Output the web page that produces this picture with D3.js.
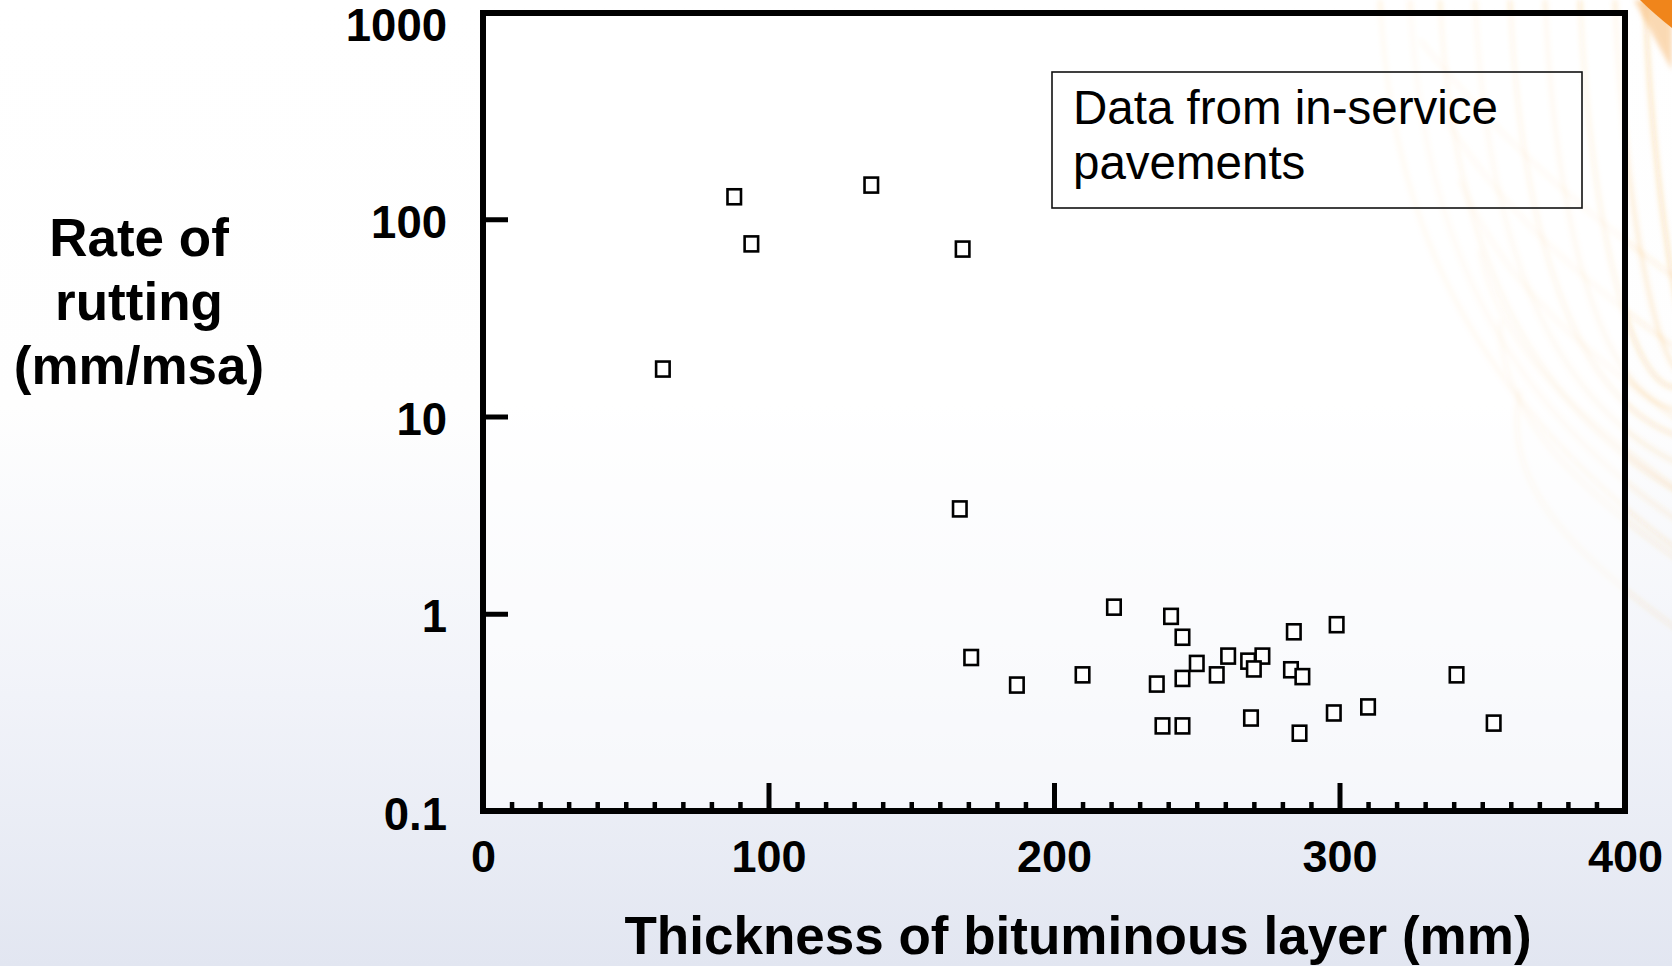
<!DOCTYPE html>
<html>
<head>
<meta charset="utf-8">
<script src="https://cdn.jsdelivr.net/npm/d3@7"></script>
<style>
  html, body { margin: 0; padding: 0; overflow: hidden; background: #ffffff; }
  svg { display: block; }
</style>
</head>
<body>
<svg id="chart" width="1672" height="966"></svg>
<script>
// Thickness of bituminous layer (mm) and measured rate of rutting (mm/msa)
const thickness = [
  88, 136, 94, 168, 63, 167,
  221, 241, 245, 284, 299, 250, 261, 268, 273, 270, 257, 245, 236, 210, 187,
  283, 287, 341, 171,
  238, 245, 269, 286, 298, 310, 354
];
const rutRate = [
  130, 149, 75, 70.6, 17.4, 3.4,
  1.08, 0.97, 0.76, 0.81, 0.88, 0.56, 0.61, 0.575, 0.61, 0.525, 0.49, 0.47, 0.44, 0.49, 0.435,
  0.52, 0.48, 0.49, 0.60,
  0.27, 0.27, 0.296, 0.248, 0.314, 0.337, 0.279
];

const xTickValues = [0, 100, 200, 300, 400];
const xTickLabels = ["0", "100", "200", "300", "400"];
const xMinorStep = 10;
const yTickValues = [0.1, 1, 10, 100, 1000];
const yTickLabels = ["0.1", "1", "10", "100", "1000"];
const yTickMarks = [1, 10, 100];

const xTitle = "Thickness of bituminous layer (mm)";
const yTitleLines = ["Rate of", "rutting", "(mm/msa)"];
const noteLines = ["Data from in-service", "pavements"];

const FONT = "'Liberation Sans', Arial, Helvetica, sans-serif";
const W = 1672, H = 966;
const frame = { left: 483, right: 1625, top: 13, bottom: 811 };

const svg = d3.select("#chart");
const defs = svg.append("defs");

// slide background: white fading to a pale blue-grey
const bg = defs.append("linearGradient").attr("id", "bgGrad")
  .attr("x1", 0).attr("y1", 0).attr("x2", 0).attr("y2", 1);
bg.append("stop").attr("offset", "0").attr("stop-color", "#ffffff");
bg.append("stop").attr("offset", "0.42").attr("stop-color", "#fefefe");
bg.append("stop").attr("offset", "0.72").attr("stop-color", "#f1f3f9");
bg.append("stop").attr("offset", "1").attr("stop-color", "#e2e6f1");
svg.append("rect").attr("width", W).attr("height", H).attr("fill", "url(#bgGrad)");

const blur = defs.append("filter").attr("id", "soft").attr("x", "-50%").attr("y", "-50%")
  .attr("width", "200%").attr("height", "200%");
blur.append("feGaussianBlur").attr("stdDeviation", 2.5);

// decorative orange sweep in the upper right corner
const deco = svg.append("g").attr("filter", "url(#soft)");
const sweepA = [1380, 1410, 1440, 1475, 1510, 1545, 1580, 1615, 1645];
sweepA.forEach((sx, i) => {
  deco.append("path")
    .attr("d", `M${sx},0 C${sx + 10},${180 + i * 10} ${sx + 60},${380 + i * 8} ${W + 20},${560 - i * 30}`)
    .attr("fill", "none")
    .attr("stroke", i % 2 ? "#f6b24a" : "#f39a2a")
    .attr("stroke-width", 4)
    .attr("stroke-opacity", 0.12 + (i / sweepA.length) * 0.14);
});
const sweepB = [120, 190, 260, 330, 400, 470];
sweepB.forEach((sy, i) => {
  deco.append("path")
    .attr("d", `M${1420 + i * 20},${sy - 80} C${1500},${sy + 20} ${1580},${sy + 90} ${W + 20},${sy + 170}`)
    .attr("fill", "none")
    .attr("stroke", "#f4a53a")
    .attr("stroke-width", 4)
    .attr("stroke-opacity", 0.12);
});
svg.append("path")
  .attr("d", `M1634,0 L${W},0 L${W},70 C1662,52 1650,30 1634,0 Z`)
  .attr("fill", "#f7b56a").attr("opacity", 0.5).attr("filter", "url(#soft)");
svg.append("path")
  .attr("d", `M1640,0 L${W},0 L${W},28 C1662,20 1650,10 1640,0 Z`)
  .attr("fill", "#f0851b");

// plot area veil
svg.append("rect")
  .attr("x", frame.left).attr("y", frame.top)
  .attr("width", frame.right - frame.left).attr("height", frame.bottom - frame.top)
  .attr("fill", "#ffffff").attr("fill-opacity", 0.55);

const x = d3.scaleLinear().domain([0, 400]).range([frame.left, frame.right]);
const y = d3.scaleLog().domain([0.1, 1000]).range([frame.bottom, 22]);

// x axis: minor ticks every 10 mm, major ticks with labels every 100 mm
const xMinor = d3.range(xMinorStep, 400, xMinorStep).filter(v => v % 100 !== 0);
const gxMinor = svg.append("g").attr("transform", `translate(0,${frame.bottom})`)
  .call(d3.axisBottom(x).tickValues(xMinor).tickSize(-9).tickFormat(""));
gxMinor.select(".domain").remove();
gxMinor.selectAll(".tick line").attr("stroke", "#000").attr("stroke-width", 4.5);

const gx = svg.append("g").attr("transform", `translate(0,${frame.bottom})`)
  .call(d3.axisBottom(x).tickValues(xTickValues).tickSize(-28).tickPadding(29)
    .tickFormat((d, i) => xTickLabels[i]));
gx.select(".domain").remove();
gx.selectAll(".tick line").attr("stroke", "#000").attr("stroke-width", 5);
gx.selectAll(".tick text")
  .attr("font-family", FONT).attr("font-size", 45).attr("font-weight", "bold").attr("fill", "#000");

// y axis: log decades
const gyMarks = svg.append("g").attr("transform", `translate(${frame.left},0)`)
  .call(d3.axisLeft(y).tickValues(yTickMarks).tickSize(-25).tickFormat(""));
gyMarks.select(".domain").remove();
gyMarks.selectAll(".tick line").attr("stroke", "#000").attr("stroke-width", 5);

const gy = svg.append("g").attr("transform", `translate(${frame.left},0)`)
  .call(d3.axisLeft(y).tickValues(yTickValues).tickSize(0).tickPadding(36)
    .tickFormat((d, i) => yTickLabels[i]));
gy.select(".domain").remove();
gy.selectAll(".tick text")
  .attr("dy", "0.4em")
  .attr("font-family", FONT).attr("font-size", 45.5).attr("font-weight", "bold").attr("fill", "#000");

// plot frame
svg.append("rect")
  .attr("x", frame.left).attr("y", frame.top)
  .attr("width", frame.right - frame.left).attr("height", frame.bottom - frame.top)
  .attr("fill", "none").attr("stroke", "#000").attr("stroke-width", 6);

// data points: open squares
const mw = 13.5, mh = 15;
svg.append("g").selectAll("rect.pt")
  .data(thickness.map((t, i) => ({ t, r: rutRate[i] })))
  .join("rect")
  .attr("class", "pt")
  .attr("x", d => x(d.t) - mw / 2)
  .attr("y", d => y(d.r) - mh / 2)
  .attr("width", mw).attr("height", mh)
  .attr("fill", "#ffffff")
  .attr("stroke", "#000").attr("stroke-width", 2.6);

// note box
svg.append("rect")
  .attr("x", 1052).attr("y", 72).attr("width", 530).attr("height", 136)
  .attr("fill", "none").attr("stroke", "#111").attr("stroke-width", 1.6);
svg.append("text")
  .attr("font-family", FONT).attr("font-size", 47.5).attr("fill", "#000")
  .selectAll("tspan").data(noteLines).join("tspan")
  .attr("x", 1073).attr("y", (d, i) => 124 + i * 55)
  .text(d => d);

// axis titles
svg.append("text")
  .attr("x", 1078).attr("y", 954).attr("text-anchor", "middle")
  .attr("font-family", FONT).attr("font-size", 53).attr("font-weight", "bold").attr("fill", "#000")
  .text(xTitle);

svg.append("text")
  .attr("text-anchor", "middle")
  .attr("font-family", FONT).attr("font-size", 53).attr("font-weight", "bold").attr("fill", "#000")
  .selectAll("tspan").data(yTitleLines).join("tspan")
  .attr("x", 139).attr("y", (d, i) => 256 + i * 64)
  .text(d => d);
</script>
</body>
</html>
